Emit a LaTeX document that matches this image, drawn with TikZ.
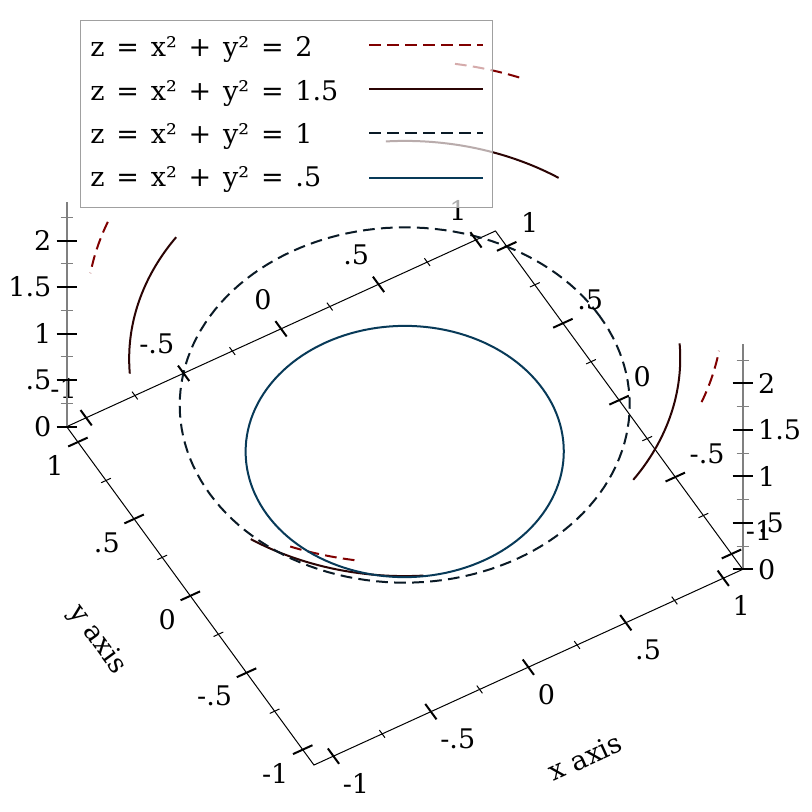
\documentclass[tikz,border=0pt]{standalone}
\usepackage{fontspec}
\setmainfont{DejaVu Serif}
\usetikzlibrary{positioning}
\definecolor{lvtwo}{RGB}{128,0,0}
\definecolor{lvonefive}{RGB}{43,4,4}
\definecolor{lvone}{RGB}{10,26,38}
\definecolor{lvhalf}{RGB}{8,58,88}
\definecolor{zgray}{RGB}{128,128,128}
\definecolor{legframe}{RGB}{160,160,160}
\tikzset{
every node/.style={font=\fontsize{13.5}{15}\selectfont, inner sep=0pt}, % plot labels
axisline/.style={black, line width=0.5pt},
majtick/.style={black, line width=1pt},
mintick/.style={black, line width=0.5pt},
zline/.style={zgray, line width=1pt},
zmin/.style={zgray, line width=0.5pt},
dashy/.style={dash pattern=on 5.85pt off 3.15pt},
two line/.style={lvtwo, line width=1pt, dashy},
onefive line/.style={lvonefive, line width=1pt},
one line/.style={lvone, line width=1pt, dashy},
half line/.style={lvhalf, line width=1pt},
nearx/.style={anchor=north west, xshift=4.5pt, yshift=-8.5pt},
farx/.style={anchor=south east, xshift=-4.5pt, yshift=9.5pt},
neary/.style={anchor=north east, xshift=-7pt, yshift=-6.5pt},
fary/.style={anchor=south west, xshift=7pt, yshift=6.5pt},
legtext/.style={anchor=base west, execute at begin node={\spaceskip=5.9pt\relax}},
}
\begin{document}
\begin{tikzpicture}[x=0.5pt, y=-0.5pt]
\useasboundingbox[fill=white] (0,0) rectangle (812,812);

\begin{scope}[shift={(404.7,498)}, x={(97.45pt,44.475pt)}, y={(-56.2pt,76.9pt)}, z={(0pt,46.5pt)}]
    % corners of the box
    \coordinate (cB) at (-1.1,-1.1,0);
    \coordinate (cL) at (-1.1,1.1,0);
    \coordinate (cT) at (1.1,1.1,0);
    \coordinate (cR) at (1.1,-1.1,0);
    \coordinate (zLtop) at (-1.1,1.1,2.42);
    \coordinate (zRtop) at (1.1,-1.1,2.42);
    \draw[axisline] (cL) -- (cB) -- (cR) -- (cT) -- cycle;

    % contours
    \foreach \a in {0,90,180,270}
        \draw[two line] plot[domain=\a+38.94:\a+51.06, samples=20] ({1.4142*cos(\x)},{1.4142*sin(\x)},2);
    \foreach \a in {0,90,180,270}
        \draw[onefive line] plot[domain=\a+26.07:\a+63.93, samples=40] ({1.2247*cos(\x)},{1.2247*sin(\x)},1.5);
    \draw[one line] plot[domain=0:360, samples=145] ({cos(\x)},{sin(\x)},1);
    \draw[half line] plot[domain=0:360, samples=145] ({0.7071*cos(\x)},{0.7071*sin(\x)},0.5);

    % x and y ticks
    \foreach \t/\l [count=\i] in {-1/-1, -0.5/-.5, 0/0, 0.5/.5, 1/1} {
        \draw[majtick] (\t,-1.15,0) -- (\t,-1.05,0);
        \draw[majtick] (\t,1.05,0) -- (\t,1.15,0);
        \draw[majtick] (-1.15,\t,0) -- (-1.05,\t,0);
        \draw[majtick] (1.05,\t,0) -- (1.15,\t,0);
        \node[nearx] (xa\i) at (\t,-1.1,0) {\l};
        \node[farx] (xb\i) at (\t,1.1,0) {\l};
        \node[neary] (ya\i) at (-1.1,\t,0) {\l};
        \node[fary] (yb\i) at (1.1,\t,0) {\l};
    }
    \foreach \t in {-0.75,-0.25,0.25,0.75} {
        \draw[mintick] (\t,-1.125,0) -- (\t,-1.075,0);
        \draw[mintick] (\t,1.075,0) -- (\t,1.125,0);
        \draw[mintick] (-1.125,\t,0) -- (-1.075,\t,0);
        \draw[mintick] (1.075,\t,0) -- (1.125,\t,0);
    }

    % z axes
    \draw[zline] (cL) -- (zLtop);
    \draw[zline] (cR) -- (zRtop);
    \foreach \zc/\zl [count=\i] in {0/0, 0.5/.5, 1/1, 1.5/1.5, 2/2} {
        \draw[majtick] (-1.1,1.1,\zc) +(-5pt,0) -- +(5pt,0);
        \draw[majtick] (1.1,-1.1,\zc) +(-5pt,0) -- +(5pt,0);
        \node[anchor=east] (za\i) at ([xshift=-7.5pt]-1.1,1.1,\zc) {\zl};
        \node[anchor=west] (zb\i) at ([xshift=7.5pt]1.1,-1.1,\zc) {\zl};
    }
    \foreach \zc in {0.25,0.75,1.25,1.75,2.25} {
        \draw[zmin] (-1.1,1.1,\zc) +(-3pt,0) -- +(3pt,0);
        \draw[zmin] (1.1,-1.1,\zc) +(-3pt,0) -- +(3pt,0);
    }
\end{scope}

% axis titles
\node[rotate=24.5] (xtitle) at (585,757) {x axis};
\node[rotate=-53.8] (ytitle) at (97,640) {y axis};

% legend
\draw[legframe, fill=white, fill opacity=0.67] (80,20) rectangle (492,207);
\foreach \lev/\sty [count=\i from 0] in {2/two line, 1.5/onefive line, 1/one line, .5/half line} {
    \node[legtext] (leg\i) at (90,56.7+43.33*\i) {z = x² + y² = \lev};
    \draw[\sty] (369,45+44.2*\i) -- (483,45+44.2*\i);
}
\end{tikzpicture}
\end{document}
